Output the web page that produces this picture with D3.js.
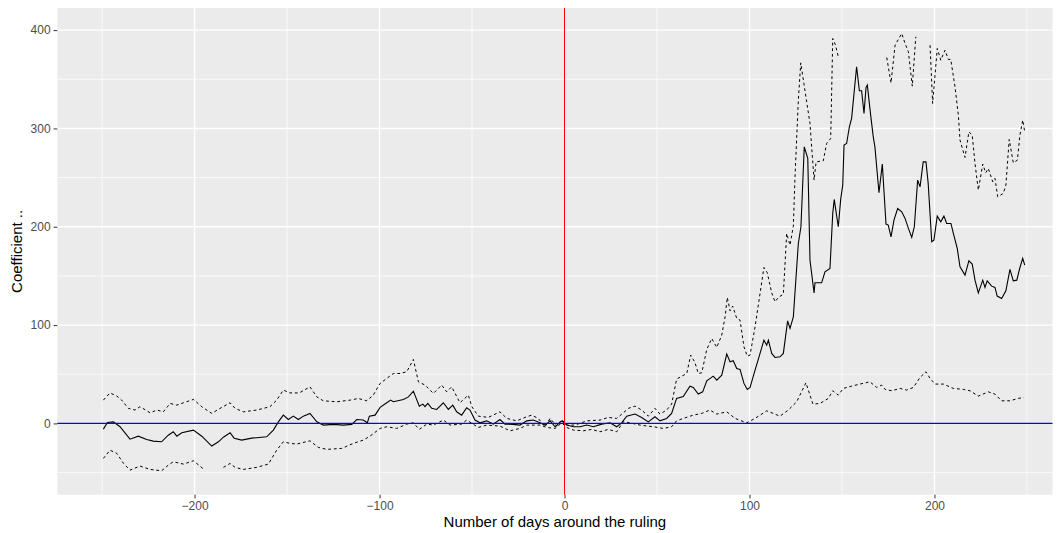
<!DOCTYPE html>
<html>
<head>
<meta charset="utf-8">
<script src="https://cdn.jsdelivr.net/npm/d3@7"></script>
<style>
  body { margin: 0; background: #fff; }
  svg text { font-family: "Liberation Sans", Arial, Helvetica, sans-serif; }
</style>
</head>
<body>
<div id="chart"></div>
<script>
// estimate (solid line)
var estDays = [-249.3,-247.1,-243.9,-240.3,-234.9,-230.4,-225.9,-222.3,-217.8,-214.2,-211.5,-209.6,-206.9,-200.6,-196.1,-190.7,-187.1,-184.4,-180.8,-178.6,-174.5,-169.1,-161,-157.4,-154.7,-152,-149.3,-146.6,-143.9,-141.2,-137.6,-133.9,-130.4,-125,-119.6,-115,-112.3,-108.8,-106.6,-105.5,-102.4,-99.7,-96.1,-94,-92.5,-87.1,-84.4,-81.7,-78.5,-76.6,-75.4,-73.9,-71.8,-69.1,-65.5,-62.8,-60.4,-58.3,-55.6,-52.9,-51.1,-48.4,-45.7,-42.1,-38.5,-34.9,-32.2,-27.7,-24.1,-20.4,-16.9,-13.2,-10.5,-7.8,-5.1,-1.5,1.2,4.8,8.4,12,15.6,20.1,24.6,28.2,30.9,33.6,38.1,41.7,45.3,48.9,51.6,55.2,57.9,60.6,64.2,67.8,69.6,72.3,74.7,76.9,80.4,82.3,85,87.7,89.5,91.2,93.1,94.9,97,98.8,100.3,103,105.7,107.8,109.3,110.2,112,113.8,116.5,118.3,120.6,121.9,123.7,126.4,127.8,129.6,131.5,132.7,134.9,135.4,139,140.8,143.5,145,145.8,148,149.3,150.4,151.1,152.5,154,155.2,157.9,159.4,160.6,161.9,163,163.7,165.5,166.9,167.8,170,171.8,173.8,175,176.5,178.1,180.1,182.3,184.1,185.9,187.7,189.1,190.9,192.2,193.9,195.4,196.6,198.5,199.7,201.5,203.4,205.1,206.6,208.9,210.2,212.3,213.8,216.5,218.6,220.4,221.9,223.7,226.1,227.3,228.5,230.9,232.7,233.9,236.3,238.6,240.8,242.6,244.5,246.2,247.7,248.8];
var estValues = [-5.8,1,1.6,-3.4,-16,-13,-16.3,-18,-18.7,-12,-8.5,-13,-9.5,-6.8,-13,-23,-18.7,-14,-9.5,-15,-17,-15,-13.6,-6.8,1.6,8.4,4,7.4,4,7.4,10.2,1.6,-1.7,-1,-1.7,-1,4,3.4,0.6,7.4,8.4,16.3,21,23.7,22,24.4,27,32.8,17.6,19.6,17,20.3,15.3,14.2,21,14.2,18.6,11.8,8.4,15.9,13.6,3.4,0.6,2.6,-0.7,4,-0.7,-1,-1.7,2.6,3.4,0.6,-1.7,2.6,-3.4,2.6,-1.7,-3.4,-3.4,-1.7,-3.4,-0.7,0.6,-3.4,0.6,7.4,9.5,6.1,1.6,6.8,2.6,5.1,10.2,25.4,27.4,37.9,36.6,29.8,32.1,43.3,48.1,44,49.1,70.5,62.6,63.7,55.9,54.9,40.7,34.6,36.6,54.2,71.2,84.7,79.6,84.7,71.2,67.1,67.7,71.2,104.3,96.6,108.4,183,200,281.3,269.5,166,132.8,143,143,154.2,157.6,213.6,227.8,200,227.8,242.4,283,284.7,301.7,310.2,362.7,338.3,338.3,315.3,341.7,344.1,313.5,291.5,281.3,234.6,263.7,202.7,201.7,189.8,206.8,218.6,215.2,208.5,198.3,189.2,200,247.4,240.6,266,266,244.1,184.7,186.4,210.8,205,210.8,203.4,203.4,193.2,178,159.3,150.8,165.4,162,145.7,132.8,145.7,138.3,145,139.6,138.3,129.5,127.1,134.9,156.6,145,145.7,158.6,167.8,161];

// upper bound (dashed), null where it leaves the y range
var upperDays = [-249.3,-245.7,-242,-239.4,-235.8,-232.2,-229.5,-224,-220.4,-216.9,-213.2,-209.6,-206,-200.6,-196.1,-190.7,-186.2,-180.8,-178.1,-173.6,-166.4,-159.2,-155.6,-152,-148.4,-143.4,-137.6,-133.9,-130.4,-123.1,-115.9,-111.5,-106.9,-103.4,-99.7,-96.1,-92.5,-88.9,-85.3,-81.7,-79,-75.4,-70.9,-66.4,-63.7,-61,-56.5,-52,-50.1,-46.6,-41.2,-34.9,-31.2,-25.8,-21.4,-17.8,-14.2,-10.5,-7.8,-4.2,-1.5,1.2,5.7,12,19.2,23.7,28.2,31.8,34.5,38.1,41.7,45.3,48.9,51.6,55.2,57.9,60.6,63.4,66.1,68.2,70.5,72.3,74.2,76.9,79.6,82.3,85,86.8,88,89.5,90.9,93.1,94.9,97,98.8,100.3,103,105.7,107.8,109.6,112,113.8,115.6,118.3,120.1,121.9,123.7,124.6,126.4,127.7,132.7,134.9,136,139.9,141.7,143.9,145,146.5,148,160,174.2,176.5,178.7,182.3,184.1,185.9,188,189.9,194,197.6,199,201.5,203.4,205.7,207.5,208.8,211.1,212.9,213.8,216.5,218.6,220.4,221.9,223.7,226.1,227.7,229.1,231.5,232.7,234.2,237.2,238.6,240.4,242.6,244.8,246.2,247.7,248.8];
var upperValues = [23.7,31,27.8,23.7,15.3,13.6,17,10.8,13.6,11.8,20.3,18.6,21,24.4,17,10.2,15.3,21,15.3,11.8,13.6,17,23.7,33.9,31,31,37.2,27,23,22,23.7,25.4,23,28.8,40.7,45.8,50.8,50.8,52.5,65.1,42.3,39,30.5,39,32.1,37.2,21,28.8,17,7.4,6.1,11.8,5.1,2.6,6.1,8.4,5.1,-3.4,5.1,-2.7,4,-1.7,-1.7,2.6,3.4,6.1,5.1,10.8,15.3,17.6,13.6,7.4,15.3,9.5,13.6,19.6,45,48.1,50.8,69.5,62,50.8,51.5,75.3,86.4,77.3,89.8,108.4,128.1,114.5,119.3,106.8,105,77.9,68.4,69.5,98.2,132.2,158.6,153.2,132.8,123.7,128.1,131.5,193.2,181.3,200.7,250.8,328.8,366.7,305,247.4,266,267.1,284.7,289.8,391.5,384.7,372.8,null,372.1,346.3,384.7,396.6,386.4,377.9,343,393.2,null,384.7,325.4,381.3,369.4,379.6,370.2,370.2,342.3,313.5,288.1,270.5,296.5,293.2,264.4,237.3,263.7,254.9,259.3,245.7,249.2,230.5,233.9,242.4,288.8,265.1,267.7,293.2,308.5,296.5];

// lower bound (dashed)
var lowerDays = [-249.3,-245.7,-242,-238.4,-234.9,-229.5,-224,-217.8,-214.2,-211.5,-206,-200.6,-194.9,-190,-184.4,-180.8,-178.1,-173.6,-166.4,-160.1,-155.6,-152,-148.4,-144.8,-137.6,-133.1,-128.5,-120.4,-114.2,-108.8,-105.1,-99.7,-96.1,-90.7,-85.3,-81.7,-78.5,-74.5,-70.9,-65.5,-61.9,-55.6,-52.9,-46.6,-42.1,-34.9,-29.5,-24.1,-20.4,-13.2,-9.6,-5.1,-1.5,1.2,4.8,10.2,14.7,19.2,23.7,28.2,31.8,35.4,40.8,48,53.4,57.9,60.6,64.2,69.6,74.2,78.6,82.3,87.7,92.2,98.5,103,109.3,116.5,121,125.5,130.5,134.3,138.1,142.6,145,148,150.7,155.2,159.7,165.1,168.8,171.5,173.3,176.9,181.4,185,188.6,192.2,195.4,197.6,200.3,204.8,210.2,215.6,219.2,223.7,229.1,232.7,236.3,240.8,245.3,248.3];
var lowerValues = [-35.6,-27.2,-30.5,-40.7,-47.5,-43.4,-46.8,-48.2,-42.4,-39,-41.4,-38,-46.8,null,-44.7,-40.7,-44.7,-46.8,-44.7,-41.4,-27.2,-18.7,-20.3,-21,-17.7,-24.4,-26.4,-25.4,-20.3,-17,-12.9,-5.1,-3.4,-5.1,-0.7,0.6,-6.1,-0.7,-1.7,3.4,-1.7,-0.7,3.4,-4.1,-1.7,-2.7,-7.5,-5.1,-1.7,-1.7,-4.1,-5.1,0.6,-4.1,-6.8,-7.5,-6.1,-8.5,-6.1,-8.5,1.6,0.6,-1.7,-3.4,-5.1,-3.4,2.6,5.1,8.4,10.2,13.6,9.5,11.8,5.1,0.6,5.1,12.8,7.4,13.6,22,41.3,19.6,20.3,25.4,33.2,28.8,35.6,37.9,40,42.3,36.6,39,34.6,33.2,35.6,33.9,36.6,46.8,52.5,45.8,40,40,35.6,34.6,33.2,27.8,32.1,29.8,23,23,25.4,26.4];

var xTicks = [-200, -100, 0, 100, 200],
    xMinor = [-250, -150, -50, 50, 150, 250],
    yTicks = [0, 100, 200, 300, 400],
    yMinor = [-50, 50, 150, 250, 350];

var width = 1060, height = 533;
var panel = {left: 57.3, right: 1052.5, top: 8, bottom: 494.7};

var svg = d3.select("#chart").append("svg")
    .attr("width", width)
    .attr("height", height);

var x = d3.scaleLinear().domain([-274.2, 263.8]).range([panel.left, panel.right]);
var y = d3.scaleLinear().domain([-72.5, 422.5]).range([panel.bottom, panel.top]);

// panel background + grid
svg.append("rect")
    .attr("x", panel.left).attr("y", panel.top)
    .attr("width", panel.right - panel.left)
    .attr("height", panel.bottom - panel.top)
    .attr("fill", "#EBEBEB");

var grid = svg.append("g");
grid.selectAll(".xminor").data(xMinor).enter().append("line")
    .attr("x1", x).attr("x2", x)
    .attr("y1", panel.top).attr("y2", panel.bottom)
    .attr("stroke", "#fff").attr("stroke-width", 0.7);
grid.selectAll(".yminor").data(yMinor).enter().append("line")
    .attr("y1", y).attr("y2", y)
    .attr("x1", panel.left).attr("x2", panel.right)
    .attr("stroke", "#fff").attr("stroke-width", 0.7);
grid.selectAll(".xmajor").data(xTicks).enter().append("line")
    .attr("x1", x).attr("x2", x)
    .attr("y1", panel.top).attr("y2", panel.bottom)
    .attr("stroke", "#fff").attr("stroke-width", 1.4);
grid.selectAll(".ymajor").data(yTicks).enter().append("line")
    .attr("y1", y).attr("y2", y)
    .attr("x1", panel.left).attr("x2", panel.right)
    .attr("stroke", "#fff").attr("stroke-width", 1.4);

function series(days, vals) {
    return days.map(function(d, i) { return {day: d, v: vals[i]}; });
}

var line = d3.line()
    .defined(function(d) { return d.v !== null; })
    .x(function(d) { return x(d.day); })
    .y(function(d) { return y(d.v); });

var lines = svg.append("g").attr("fill", "none").attr("stroke", "#000");
lines.append("path")
    .attr("d", line(series(upperDays, upperValues)))
    .attr("stroke-width", 1).attr("stroke-dasharray", "2.8,2.8");
lines.append("path")
    .attr("d", line(series(lowerDays, lowerValues)))
    .attr("stroke-width", 1).attr("stroke-dasharray", "2.8,2.8");
lines.append("path")
    .attr("d", line(series(estDays, estValues)))
    .attr("stroke-width", 1.1);

// reference lines drawn over the curves
svg.append("line")
    .attr("x1", panel.left).attr("x2", panel.right)
    .attr("y1", y(0)).attr("y2", y(0))
    .attr("stroke", "#0000FF").attr("stroke-width", 1.3);
svg.append("line")
    .attr("x1", x(0)).attr("x2", x(0))
    .attr("y1", panel.top).attr("y2", panel.bottom)
    .attr("stroke", "#FF0000").attr("stroke-width", 1);

// axes
var xAxis = d3.axisBottom(x).tickValues(xTicks).tickSize(3.7).tickPadding(3)
    .tickFormat(function(d) { return d < 0 ? "\u2212" + Math.abs(d) : d; });
var yAxis = d3.axisLeft(y).tickValues(yTicks).tickSize(3.7).tickPadding(3);

var gx = svg.append("g")
    .attr("transform", "translate(0," + panel.bottom + ")")
    .call(xAxis);
var gy = svg.append("g")
    .attr("transform", "translate(" + panel.left + ",0)")
    .call(yAxis);

[gx, gy].forEach(function(g) {
    g.select(".domain").remove();
    g.selectAll(".tick line").attr("stroke", "#333333").attr("stroke-width", 1);
    g.selectAll(".tick text").attr("fill", "#4D4D4D").style("font-size", "12px");
});

svg.append("text")
    .attr("x", (panel.left + panel.right) / 2)
    .attr("y", 527)
    .attr("text-anchor", "middle")
    .style("font-size", "15px")
    .attr("fill", "#000")
    .text("Number of days around the ruling");

svg.append("text")
    .attr("transform", "translate(21.5," + (panel.top + panel.bottom) / 2 + ") rotate(-90)")
    .attr("text-anchor", "middle")
    .style("font-size", "15px")
    .attr("fill", "#000")
    .text("Coefficient ..");
</script>
</body>
</html>
